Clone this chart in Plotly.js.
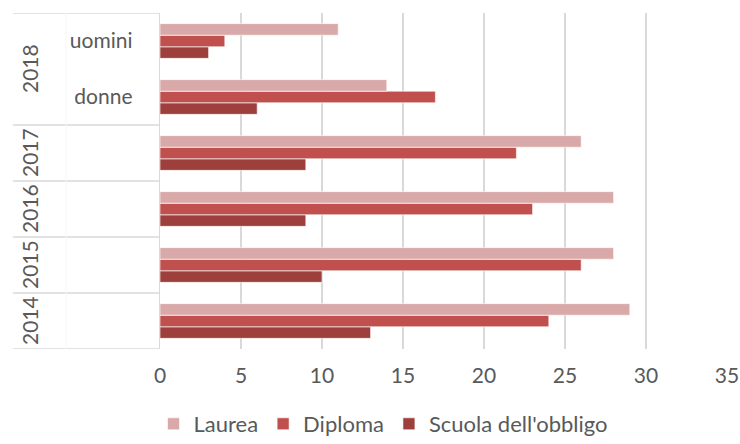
<!DOCTYPE html>
<html><head><meta charset="utf-8">
<script src="https://cdn.plot.ly/plotly-3.0.1.min.js"></script>
<style>html,body{margin:0;padding:0;background:#fff}#chart{width:740px;height:444px}</style>
</head><body><div id="chart"></div>
<script>
var years = ['2014','2015','2016','2017','2018','2018'];
var groups = ['','','','','donne','uomini'];
var laurea = [29, 28, 28, 26, 14, 11];
var diploma = [24, 26, 23, 22, 17, 4];
var scuola = [13, 10, 9, 9, 6, 3];
var seriesNames = ['Laurea', 'Diploma', "Scuola dell'obbligo"];
var xTicks = [0, 5, 10, 15, 20, 25, 30, 35];

var cats = years.map(function(y, i){ return y + ' ' + groups[i]; });
var font = 'Lato, "Open Sans", sans-serif';
var W = 740, H = 444, L = 160, R = 13, T = 13, B = 95;
var pw = W - L - R, ph = H - T - B;

function tr(name, vals, color){
  return {type:'bar', orientation:'h', name:name, x:vals, y:cats,
    marker:{color:color, line:{color:'#ffffff', width:0.6}}, hoverinfo:'x'};
}
var data = [
  tr(seriesNames[2], scuola, '#9D3F3D'),
  tr(seriesNames[1], diploma, '#C0504D'),
  tr(seriesNames[0], laurea, '#D9A9A9')
];

var shapes = [];
var lineColor = '#D9D9D9';
var x0 = (13 - L) / pw;
shapes.push({type:'line', xref:'paper', yref:'y', x0:x0, x1:0, y0:cats.length-0.5, y1:cats.length-0.5, line:{color:lineColor, width:1.5}});
for (var i = 0; i < cats.length; i++){
  if (i === 0 || years[i] !== years[i-1]) {
    shapes.push({type:'line', xref:'paper', yref:'y', x0:x0, x1:0, y0:i-0.5, y1:i-0.5, line:{color:lineColor, width:1.5}});
  }
}
shapes.push({type:'line', xref:'paper', yref:'y', x0:(66-L)/pw, x1:(66-L)/pw, y0:-0.5, y1:cats.length-0.5, line:{color:'#F6F6F6', width:1}});

var annotations = [];
var seen = {};
years.forEach(function(y, i){
  if (!seen[y]) seen[y] = [];
  seen[y].push(i);
});
Object.keys(seen).forEach(function(y){
  var idx = seen[y];
  var mid = (idx[0] + idx[idx.length-1]) / 2;
  annotations.push({xref:'paper', yref:'y', x:(29 - L)/pw, y:mid, text:y, showarrow:false,
    textangle:-90, font:{family:font, size:21, color:'#595959'}, xanchor:'center', yanchor:'middle'});
});

var layout = {
  width:W, height:H,
  margin:{l:L, r:R, t:T, b:B, autoexpand:false},
  paper_bgcolor:'#ffffff', plot_bgcolor:'#ffffff',
  barmode:'group', bargap:0.38, bargroupgap:0,
  showlegend:true,
  legend:{orientation:'h', traceorder:'reversed', x:(383 - L)/pw, xanchor:'center',
    y:(T + ph - 424)/ph, yanchor:'middle',
    font:{family:font, size:22, color:'#595959'}, itemwidth:30, tracegroupgap:0},
  xaxis:{range:[0,35], tickvals:xTicks, showgrid:true, gridcolor:'#D9D9D9', gridwidth:1.3,
    zeroline:false, showline:false, ticks:'', fixedrange:true, automargin:false, ticklabelstandoff:12,
    tickfont:{family:font, size:21, color:'#595959'}},
  yaxis:{type:'category', categoryorder:'array', categoryarray:cats, tickvals:cats, ticktext:groups,
    showline:true, linecolor:'#D9D9D9', linewidth:1.3, showgrid:false, ticks:'', ticklabelstandoff:22,
    automargin:false,
    tickfont:{family:font, size:21, color:'#595959'}, range:[-0.5, cats.length-0.5]},
  shapes:shapes, annotations:annotations
};
Plotly.newPlot('chart', data, layout, {displayModeBar:false, staticPlot:true});
</script></body></html>
